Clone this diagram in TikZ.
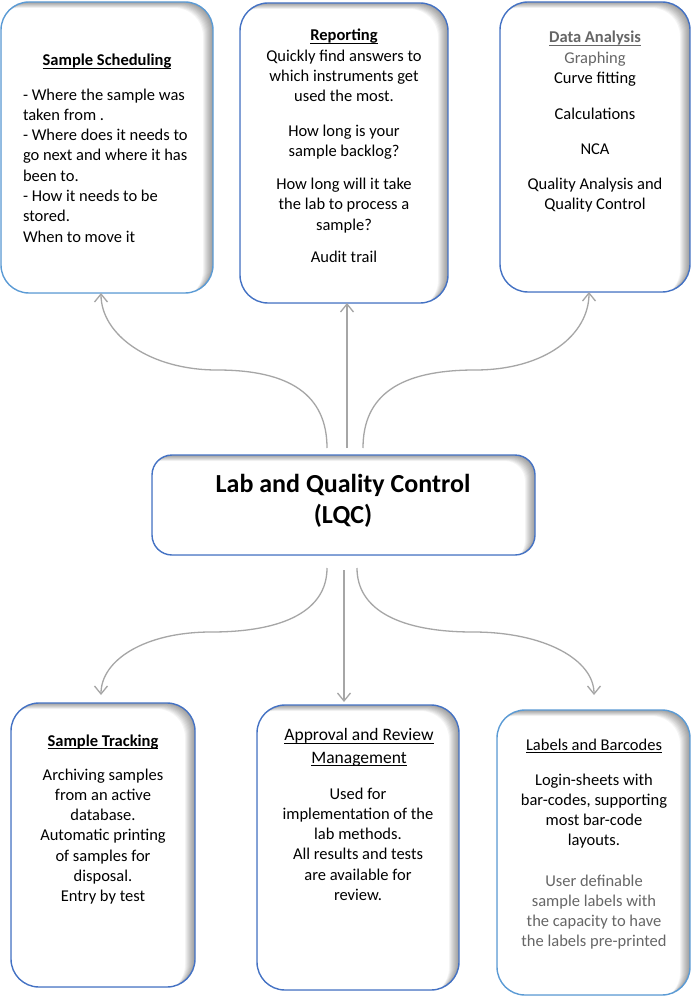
\documentclass[tikz,border=0pt]{standalone}
\usepackage{fontspec}
\setmainfont{Carlito}
\usetikzlibrary{arrows.meta,calc}
\newsavebox\myulbox
\newcommand\myul[1]{\sbox\myulbox{#1}\rlap{\usebox\myulbox}\rule[-2.6pt]{\wd\myulbox}{0.9pt}}
\definecolor{bordA}{HTML}{4472C4}
\definecolor{bordB}{HTML}{5B9BD5}
\definecolor{arr}{HTML}{A6A6A6}
\definecolor{txtgray}{HTML}{666666}
\tikzset{
  box/.style={fill=white, inner sep=0pt, outer sep=0pt},
  body/.style={font=\fontsize{16.5}{20.3}\selectfont, align=center, inner sep=0pt, outer sep=0pt, anchor=north},
  head/.style={font=\fontsize{16.5}{20.3}\selectfont\bfseries, inner sep=0pt, outer sep=0pt, anchor=base},
  conn/.style={draw=arr, line width=1.3pt, -{Straight Barb[length=8pt,width=13pt]}},
}
\newcommand\fancybox[3]{% name, radius, colour
  \begin{scope}
    \clip[rounded corners=#2] (#1.north west) rectangle (#1.south east);
    \foreach \k in {1,...,10}{
      \fill[black, opacity=0.045, even odd rule, rounded corners=#2]
        (#1.north west) rectangle (#1.south east)
        ([xshift={-\k*1pt}, yshift={-0.6*\k*1pt}]#1.north west) rectangle ([xshift={-\k*1pt}, yshift={-0.6*\k*1pt}]#1.south east);
    }
  \end{scope}
  \draw[draw=#3, line width=1.4pt, rounded corners=#2] (#1.north west) rectangle (#1.south east);}
\begin{document}
\begin{tikzpicture}[x=1pt, y=-1pt]
\useasboundingbox (0,0) rectangle (695,1000);
\fill[white] (0,0) rectangle (695,1000);

% boxes
\node[box, minimum width=212pt, minimum height=291pt] (sched) at (107,147.5) {};
\fancybox{sched}{28pt}{bordB}
\node[box, minimum width=208pt, minimum height=300pt] (rep) at (344,153) {};
\fancybox{rep}{28pt}{bordA}
\node[box, minimum width=190pt, minimum height=290pt] (data) at (595,147) {};
\fancybox{data}{28pt}{bordA}
\node[box, minimum width=383pt, minimum height=100pt] (lqc) at (343.5,505) {};
\fancybox{lqc}{20pt}{bordA}
\node[box, minimum width=184pt, minimum height=284pt] (track) at (103,845) {};
\fancybox{track}{28pt}{bordA}
\node[box, minimum width=202pt, minimum height=285pt] (appr) at (358,847.5) {};
\fancybox{appr}{28pt}{bordA}
\node[box, minimum width=193pt, minimum height=285pt] (lab) at (593.5,852.5) {};
\fancybox{lab}{28pt}{bordB}

% texts
\node[head] (sched-h) at (107,66) {\myul{Sample Scheduling}};
\node[body, align=left, anchor=north west] (sched-b) at (23,85.8) {\strut- Where the sample was\\taken from .\\- Where does it needs to\\go next and where it has\\been to.\\- How it needs to be\\stored.\\When to move it};

\node[head] (rep-h) at (344,41) {\myul{Reporting}};
\node[body] (rep-b) at (344,46.8) {\strut Quickly find answers to\\which instruments get\\used the most.\\[14.5pt]How long is your\\sample backlog?\\[12.5pt]How long will it take\\the lab to process a\\sample?\\[12.5pt]Audit trail};

\node[head, text=txtgray] (data-h) at (595,43) {\myul{Data Analysis}};
\node[body] (data-b) at (595,48.8) {\strut\textcolor{txtgray}{Graphing}\\Curve fitting\\[15.5pt]Calculations\\[14.7pt]NCA\\[14.7pt]Quality Analysis and\\Quality Control};

\node[body, font=\fontsize{26}{31.5}\selectfont\bfseries] (lqc-t) at (343,470) {\rule{0pt}{22.05pt}Lab and Quality Control\\(LQC)};

\node[head] (track-h) at (103,746) {\myul{Sample Tracking}};
\node[body] (track-b) at (103,765.8) {\strut Archiving samples\\from an active\\database.\\Automatic printing\\of samples for\\disposal.\\Entry by test};

\node[body, font=\fontsize{17.5}{22.5}\selectfont] (appr-h) at (359,725.2) {\rule{0pt}{15.75pt}\myul{Approval and Review}\\\myul{Management}};
\node[body] (appr-b) at (358,784.8) {\strut Used for\\implementation of the\\lab methods.\\All results and tests\\are available for\\review.};

\node[head, font=\fontsize{16.5}{20.3}\selectfont] (lab-h) at (594,750) {\myul{Labels and Barcodes}};
\node[body] (lab-b) at (594,770.8) {\strut Login-sheets with\\bar-codes, supporting\\most bar-code\\layouts.};
\node[body, text=txtgray] (lab-g) at (594,871.8) {\strut User definable\\sample labels with\\the capacity to have\\the labels pre-printed};

% connectors
\draw[conn] ($(lqc.north)+(-16.5,-7)$) .. controls +(0,-53) and (290,370) .. (217,370)
  .. controls (150,370) and (101,335) .. ($(sched.south)+(-6,0)$);
\draw[conn] ($(lqc.north)+(3.5,-7)$) -- ($(rep.south)+(3,0)$);
\draw[conn] ($(lqc.north)+(19.5,-7)$) .. controls +(0,-53) and (400,370) .. (475,370)
  .. controls (545,370) and (589,335) .. ($(data.south)+(-6,0)$);

\draw[conn] ($(lqc.south)+(-16.5,13)$) .. controls +(0,42) and (285,632) .. (211,632)
  .. controls (145,632) and (101,660) .. ($(track.north)+(-2,-8)$);
\draw[conn] ($(lqc.south)+(0.5,15)$) -- ($(appr.north)+(-14,-3)$);
\draw[conn] ($(lqc.south)+(13.5,13)$) .. controls +(0,42) and (400,632) .. (473,632)
  .. controls (545,632) and (594,660) .. ($(lab.north)+(0.5,-15)$);
\end{tikzpicture}
\end{document}
